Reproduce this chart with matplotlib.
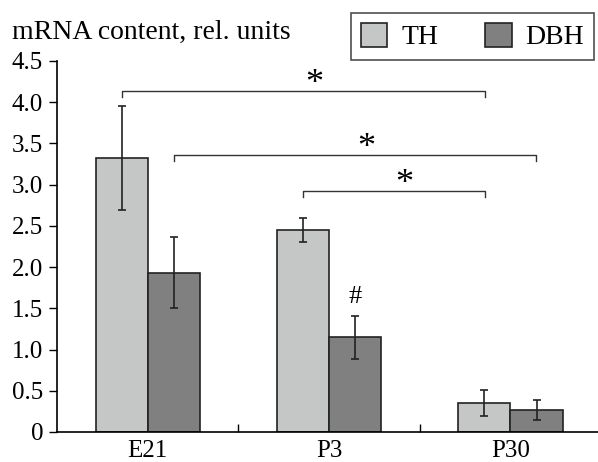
import matplotlib.pyplot as plt
import numpy as np

plt.rcParams['font.family'] = ['Liberation Serif', 'DejaVu Serif']

groups = ["E21", "P3", "P30"]
th = [3.32, 2.45, 0.35]
th_err = [0.63, 0.15, 0.16]
dbh = [1.93, 1.15, 0.27]
dbh_err = [0.43, 0.26, 0.12]

# significance brackets: (x start, x end, height, label)
brackets = [(0.357, 2.357, 4.13, "*"),
            (0.643, 2.643, 3.36, "*"),
            (1.357, 2.357, 2.92, "*")]

fig = plt.figure(figsize=(5.98, 4.62), dpi=100)
ax = fig.add_axes([0.0953, 0.065, 0.91, 0.803])

x = np.arange(len(groups)) + 0.5
w = 0.287
ekw = dict(ecolor="#222222", elinewidth=1.2, capsize=3.2, capthick=1.2)
ax.bar(x - w/2, th, w, yerr=th_err, color="#c5c7c6", edgecolor="#222222",
       linewidth=1.2, error_kw=ekw, label="TH")
ax.bar(x + w/2, dbh, w, yerr=dbh_err, color="#808080", edgecolor="#222222",
       linewidth=1.2, error_kw=ekw, label="DBH")

for x0, x1, h, lab in brackets:
    ax.plot([x0, x0, x1, x1], [h - 0.07, h, h, h - 0.07], color="#333333", lw=1.0)
    ax.text((x0 + x1)/2 + 0.06, h + 0.08, lab, ha="center", va="center", fontsize=26)

ax.text(x[1] + w/2, 1.5, "#", ha="center", va="bottom", fontsize=19)

ax.set_xlim(0, 3)
ax.set_ylim(0, 4.5)
ax.set_yticks(np.arange(0, 4.6, 0.5))
ax.set_yticklabels(["0"] + ["%.1f" % v for v in np.arange(0.5, 4.6, 0.5)])
ax.set_xticks(x)
ax.set_xticklabels(groups)
ax.set_xticks([1, 2], minor=True)
ax.tick_params(axis="x", which="major", length=0, labelsize=18, pad=6)
ax.tick_params(axis="x", which="minor", direction="in", length=6, width=1)
ax.tick_params(axis="y", direction="out", length=6, width=1, labelsize=18, pad=4)
for s in ["top", "right"]:
    ax.spines[s].set_visible(False)
ax.spines["left"].set_linewidth(1.2)
ax.spines["bottom"].set_linewidth(1.2)

fig.text(0.02, 0.93, "mRNA content, rel. units", fontsize=20, ha="left", va="center")

leg = fig.legend(loc="upper right", bbox_to_anchor=(0.993, 0.972), ncol=2, fontsize=20,
                 frameon=True, fancybox=False, edgecolor="#222222",
                 handlelength=0.95, handleheight=0.95, handletextpad=0.5,
                 columnspacing=1.7, borderpad=0.35, borderaxespad=0)
leg.get_frame().set_linewidth(1.2)

fig.savefig("out.png", dpi=100)
